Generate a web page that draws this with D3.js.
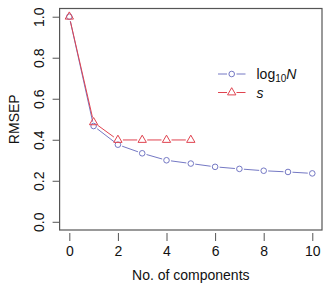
<!DOCTYPE html>
<html>
<head>
<meta charset="utf-8">
<script src="https://cdn.jsdelivr.net/npm/d3@7"></script>
<style>
  body { margin: 0; background: #fff; }
  text { font-family: "Liberation Sans", Arial, sans-serif; fill: #111; }
</style>
</head>
<body>
<div id="chart"></div>
<script>
// data
var comps = [0, 1, 2, 3, 4, 5, 6, 7, 8, 9, 10];
var logN = [1.0, 0.467, 0.376, 0.334, 0.300, 0.284, 0.268, 0.258, 0.249, 0.243, 0.236];
var sComps = [0, 1, 2, 3, 4, 5];
var sVals = [1.0, 0.485, 0.399, 0.399, 0.399, 0.399];
var xTicks = [0, 2, 4, 6, 8, 10];
var yTicks = [0, 0.2, 0.4, 0.6, 0.8, 1.0];

var W = 326, H = 289;
var box = { left: 59.6, right: 322, top: 8.5, bottom: 230 };
var fs = 14;

var svg = d3.select("#chart").append("svg")
  .attr("width", W).attr("height", H);

// R style: range padded 4% each side
var x = d3.scaleLinear().domain([-0.4, 10.4]).range([box.left, box.right]);
var y = d3.scaleLinear().domain([-0.04, 1.04]).range([box.bottom, box.top]);

var axisCol = "#555";
var blue = "#7478c4", red = "#e0434f";

// plot box
svg.append("rect")
  .attr("x", box.left).attr("y", box.top)
  .attr("width", box.right - box.left).attr("height", box.bottom - box.top)
  .attr("fill", "none").attr("stroke", axisCol).attr("stroke-width", 1.2);

// x axis
var xa = svg.append("g")
  .attr("transform", "translate(0," + box.bottom + ")")
  .call(d3.axisBottom(x).tickValues(xTicks).tickSize(8).tickFormat(d3.format("d")));
xa.select(".domain").remove();
xa.selectAll("line").attr("stroke", axisCol).attr("transform", "translate(0,3)");
xa.selectAll("text").attr("font-size", fs).attr("fill", "#111")
  .attr("y", null).attr("dy", null).attr("transform", "translate(0,25.5)");

// y axis (labels rotated like R)
var ya = svg.append("g")
  .attr("transform", "translate(" + box.left + ",0)")
  .call(d3.axisLeft(y).tickValues(yTicks).tickSize(7).tickFormat(d3.format(".1f")));
ya.select(".domain").remove();
ya.selectAll("line").attr("stroke", axisCol);
ya.selectAll("text").attr("font-size", fs).attr("fill", "#111")
  .attr("x", null).attr("dy", null)
  .attr("text-anchor", "middle")
  .attr("transform", "translate(" + (43.5 - box.left) + ",0) rotate(-90)");

// axis titles
svg.append("text").attr("x", (box.left + box.right) / 2).attr("y", 280)
  .attr("text-anchor", "middle").attr("font-size", fs).text("No. of components");
svg.append("text")
  .attr("transform", "translate(18.5," + ((box.top + box.bottom) / 2) + ") rotate(-90)")
  .attr("text-anchor", "middle").attr("font-size", fs).text("RMSEP");

// type "b" lines: segments with gaps around points
function gappedLines(xs, ys, col, gap) {
  var pts = xs.map(function (d, i) { return [x(d), y(ys[i])]; });
  for (var i = 0; i < pts.length - 1; i++) {
    var a = pts[i], b = pts[i + 1];
    var dx = b[0] - a[0], dy = b[1] - a[1];
    var len = Math.sqrt(dx * dx + dy * dy);
    if (len <= 2 * gap) continue;
    var ux = dx / len, uy = dy / len;
    svg.append("line")
      .attr("x1", a[0] + ux * gap).attr("y1", a[1] + uy * gap)
      .attr("x2", b[0] - ux * gap).attr("y2", b[1] - uy * gap)
      .attr("stroke", col).attr("stroke-width", 1);
  }
}

var tri = d3.symbol().type(d3.symbolTriangle).size(30);

function circles(sel, col) {
  sel.append("circle").attr("r", 2.8)
    .attr("fill", "none").attr("stroke", col).attr("stroke-width", 1);
}
function triangles(sel, col) {
  sel.append("path").attr("d", tri)
    .attr("fill", "none").attr("stroke", col).attr("stroke-width", 1);
}

gappedLines(comps, logN, blue, 4.5);
gappedLines(sComps, sVals, red, 5);

svg.append("g").selectAll("g").data(comps).enter().append("g")
  .attr("transform", function (d, i) { return "translate(" + x(d) + "," + y(logN[i]) + ")"; })
  .call(circles, blue);

svg.append("g").selectAll("g").data(sComps).enter().append("g")
  .attr("transform", function (d, i) { return "translate(" + x(d) + "," + y(sVals[i]) + ")"; })
  .call(triangles, red);

// legend
var legend = svg.append("g");
var rows = [{ col: blue, y: 74, mark: circles }, { col: red, y: 92.5, mark: triangles }];
rows.forEach(function (r) {
  legend.append("line").attr("x1", 218).attr("x2", 227).attr("y1", r.y).attr("y2", r.y)
    .attr("stroke", r.col);
  legend.append("line").attr("x1", 236.5).attr("x2", 245.5).attr("y1", r.y).attr("y2", r.y)
    .attr("stroke", r.col);
  legend.append("g").attr("transform", "translate(231.7," + r.y + ")").call(r.mark, r.col);
});
var t1 = legend.append("text").attr("x", 256.5).attr("y", 79).attr("font-size", fs);
t1.append("tspan").text("log");
t1.append("tspan").attr("font-size", 10).attr("dy", 3).text("10");
t1.append("tspan").attr("font-style", "italic").attr("dy", -3).text("N");
legend.append("text").attr("x", 256.5).attr("y", 97.5).attr("font-size", fs)
  .attr("font-style", "italic").text("s");
</script>
</body>
</html>
